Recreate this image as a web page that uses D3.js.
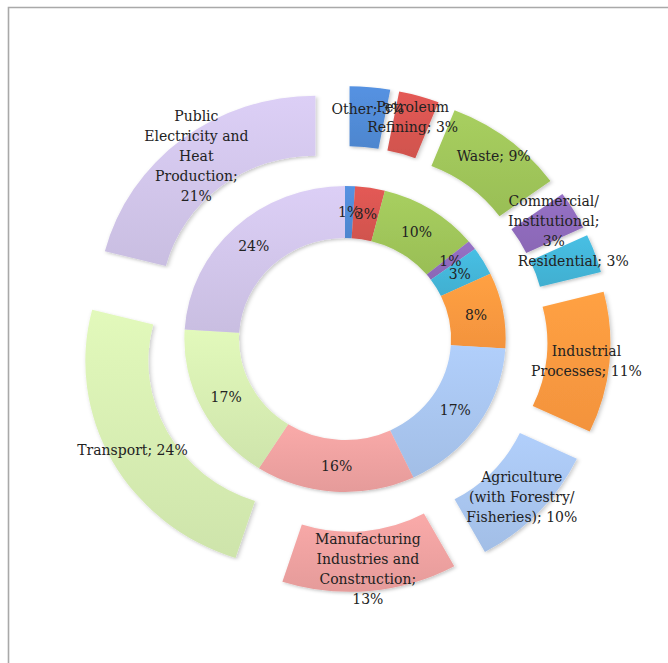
<!DOCTYPE html>
<html>
<head>
<meta charset="utf-8">
<script src="https://cdn.jsdelivr.net/npm/d3@7"></script>
<style>
  html, body { margin: 0; padding: 0; background: #fff; }
  svg { display: block; }
  text { font-family: "DejaVu Serif", serif; font-size: 14px; fill: #222; }
</style>
</head>
<body>
<svg id="chart" width="668" height="663"></svg>
<script>
// Emission sources, clockwise from 12 o'clock
const categories = [
  "Other",
  "Petroleum Refining",
  "Waste",
  "Commercial/Institutional",
  "Residential",
  "Industrial Processes",
  "Agriculture (with Forestry/Fisheries)",
  "Manufacturing Industries and Construction",
  "Transport",
  "Public Electricity and Heat Production"
];
// Inner ring shares (%)
const innerValues = [1, 3, 10, 1, 3, 8, 17, 16, 17, 24];
// Outer ring shares (%)
const outerValues = [3, 3, 9, 3, 3, 11, 10, 13, 24, 21];
const colors = [
  "#4f88d2", "#d4544f", "#9cc158", "#8c69b8", "#42b2d4",
  "#f7963e", "#a5c1ea", "#e99e9d", "#d2e8ae", "#cdc1e5"
];

const svg = d3.select("#chart");
const cx = 345, cy = 339, sx = 1.05;
const inner = { r0: 101, r1: 153 };
const outer = { r0: 147, r1: 207, explode: 46 };
const outerLabelR = 231, innerLabelR = 127;

// frame
svg.append("path")
  .attr("d", "M8.5,663 L8.5,7.5 L668,7.5")
  .attr("fill", "none").attr("stroke", "#a9a9a9").attr("stroke-width", 1.6);

const defs = svg.append("defs");
const shadow = defs.append("filter").attr("id", "shadow")
  .attr("x", "-20%").attr("y", "-20%").attr("width", "140%").attr("height", "140%");
shadow.append("feDropShadow").attr("dx", 1.5).attr("dy", 1.5)
  .attr("stdDeviation", 1.8).attr("flood-color", "#000").attr("flood-opacity", 0.22);

colors.forEach((c, i) => {
  const g = defs.append("linearGradient").attr("id", "grad" + i)
    .attr("x1", 0).attr("y1", 0).attr("x2", 0).attr("y2", 1);
  g.append("stop").attr("offset", "0%").attr("stop-color", d3.color(c).brighter(0.2));
  g.append("stop").attr("offset", "100%").attr("stop-color", d3.color(c).darker(0.05));
});

const pie = d3.pie().sort(null).value(d => d).startAngle(0).endAngle(2 * Math.PI);

const ring = svg.append("g").attr("transform", `translate(${cx},${cy}) scale(${sx},1)`);

// inner ring
const innerArc = d3.arc().innerRadius(inner.r0).outerRadius(inner.r1);
const innerArcs = pie(innerValues);
ring.append("g").attr("filter", "url(#shadow)")
  .selectAll("path").data(innerArcs).join("path")
  .attr("d", innerArc)
  .attr("fill", (d, i) => `url(#grad${i})`);

// outer ring, every piece pulled out along its bisector
const outerArc = d3.arc().innerRadius(outer.r0).outerRadius(outer.r1);
const outerArcs = pie(outerValues);
const mid = d => (d.startAngle + d.endAngle) / 2;
ring.append("g")
  .selectAll("path").data(outerArcs).join("path")
  .attr("filter", "url(#shadow)")
  .attr("transform", d => {
    const a = mid(d);
    return `translate(${outer.explode * Math.sin(a)},${-outer.explode * Math.cos(a)})`;
  })
  .attr("d", outerArc)
  .attr("fill", (d, i) => `url(#grad${i})`);

const pos = (a, r) => [cx + sx * r * Math.sin(a), cy - r * Math.cos(a)];

// inner labels
svg.append("g").selectAll("text").data(innerArcs).join("text")
  .attr("x", d => pos(mid(d), innerLabelR)[0])
  .attr("y", d => pos(mid(d), innerLabelR)[1])
  .attr("text-anchor", "middle").attr("dominant-baseline", "central")
  .text(d => d.value + "%");

// outer labels, wrapped to a fixed width
const maxW = 115, lineH = 20;
const measure = svg.append("text").attr("visibility", "hidden");
function textWidth(s) { measure.text(s); return measure.node().getComputedTextLength(); }
function wrap(s) {
  const words = s.replace(/\//g, "/ ").split(/\s+/).filter(Boolean);
  const lines = [];
  let cur = "";
  words.forEach(w => {
    const join = cur ? (cur.endsWith("/") ? cur + w : cur + " " + w) : w;
    if (cur && textWidth(join) > maxW) { lines.push(cur); cur = w; }
    else cur = join;
  });
  if (cur) lines.push(cur);
  return lines;
}

const labels = svg.append("g");
outerArcs.forEach((d, i) => {
  const [x, y] = pos(mid(d), outerLabelR);
  const lines = wrap(`${categories[i]}; ${d.value}%`);
  const t = labels.append("text").attr("text-anchor", "middle");
  lines.forEach((ln, k) => {
    t.append("tspan").attr("x", x)
      .attr("y", y + (k - (lines.length - 1) / 2) * lineH)
      .attr("dominant-baseline", "central")
      .text(ln);
  });
});
measure.remove();
</script>
</body>
</html>
